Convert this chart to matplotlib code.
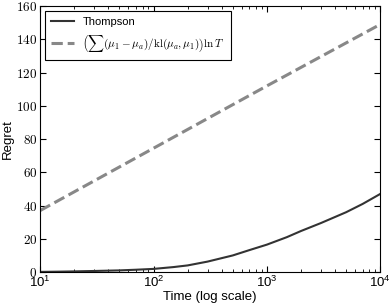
import numpy as np
import matplotlib
matplotlib.use("Agg")
import matplotlib.pyplot as plt

plt.rcParams['mathtext.fontset'] = 'cm'
plt.rcParams['font.family'] = ['Liberation Sans', 'DejaVu Sans']

# Thompson sampling regret
t_thompson = [10, 15, 20, 30, 50, 70, 100, 150, 200, 300, 500, 700,
              1000, 1500, 2000, 3000, 5000, 7000, 10000]
regret_thompson = [0.1, 0.25, 0.4, 0.65, 1.0, 1.4, 1.9, 3.0, 4.0, 6.3, 10.0, 13.2,
                   16.5, 21.0, 24.7, 29.5, 36.0, 41.0, 47.0]

# lower bound, straight in log time
t_bound = [10, 100, 1000, 10000]
regret_bound = [37.0, 74.5, 112.0, 149.0]

fig = plt.figure(figsize=(3.9, 3.05), dpi=100)
ax = fig.add_axes([0.103, 0.108, 0.872, 0.872])

ax.plot(t_thompson, regret_thompson, color='#333333', lw=1.5, label='Thompson')
ax.plot(t_bound, regret_bound, color='#888888', lw=2.2, ls='--',
        label=r'$\left(\sum(\mu_1-\mu_a)/\mathrm{kl}(\mu_a,\mu_1)\right)\ln T$')

ax.set_xscale('log')
ax.set_xlim(10, 10000)
ax.set_ylim(0, 160)
ax.set_yticks(np.arange(0, 161, 20))
ax.set_yticklabels([rf'${v}$' for v in range(0, 161, 20)])
ax.tick_params(which='both', direction='in', top=True, right=True, labelsize=9.5, pad=2)
ax.tick_params(which='major', length=4)
ax.tick_params(which='minor', length=2)
ax.set_xlabel('Time (log scale)', fontsize=9.5, labelpad=1)
ax.set_ylabel('Regret', fontsize=9.5, labelpad=1.5)

leg = ax.legend(loc='upper left', fontsize=8, fancybox=False, edgecolor='black',
                framealpha=1, handlelength=2.0, borderpad=0.6, borderaxespad=0.4)
leg.get_frame().set_linewidth(0.8)

fig.savefig('out.png', dpi=100)
